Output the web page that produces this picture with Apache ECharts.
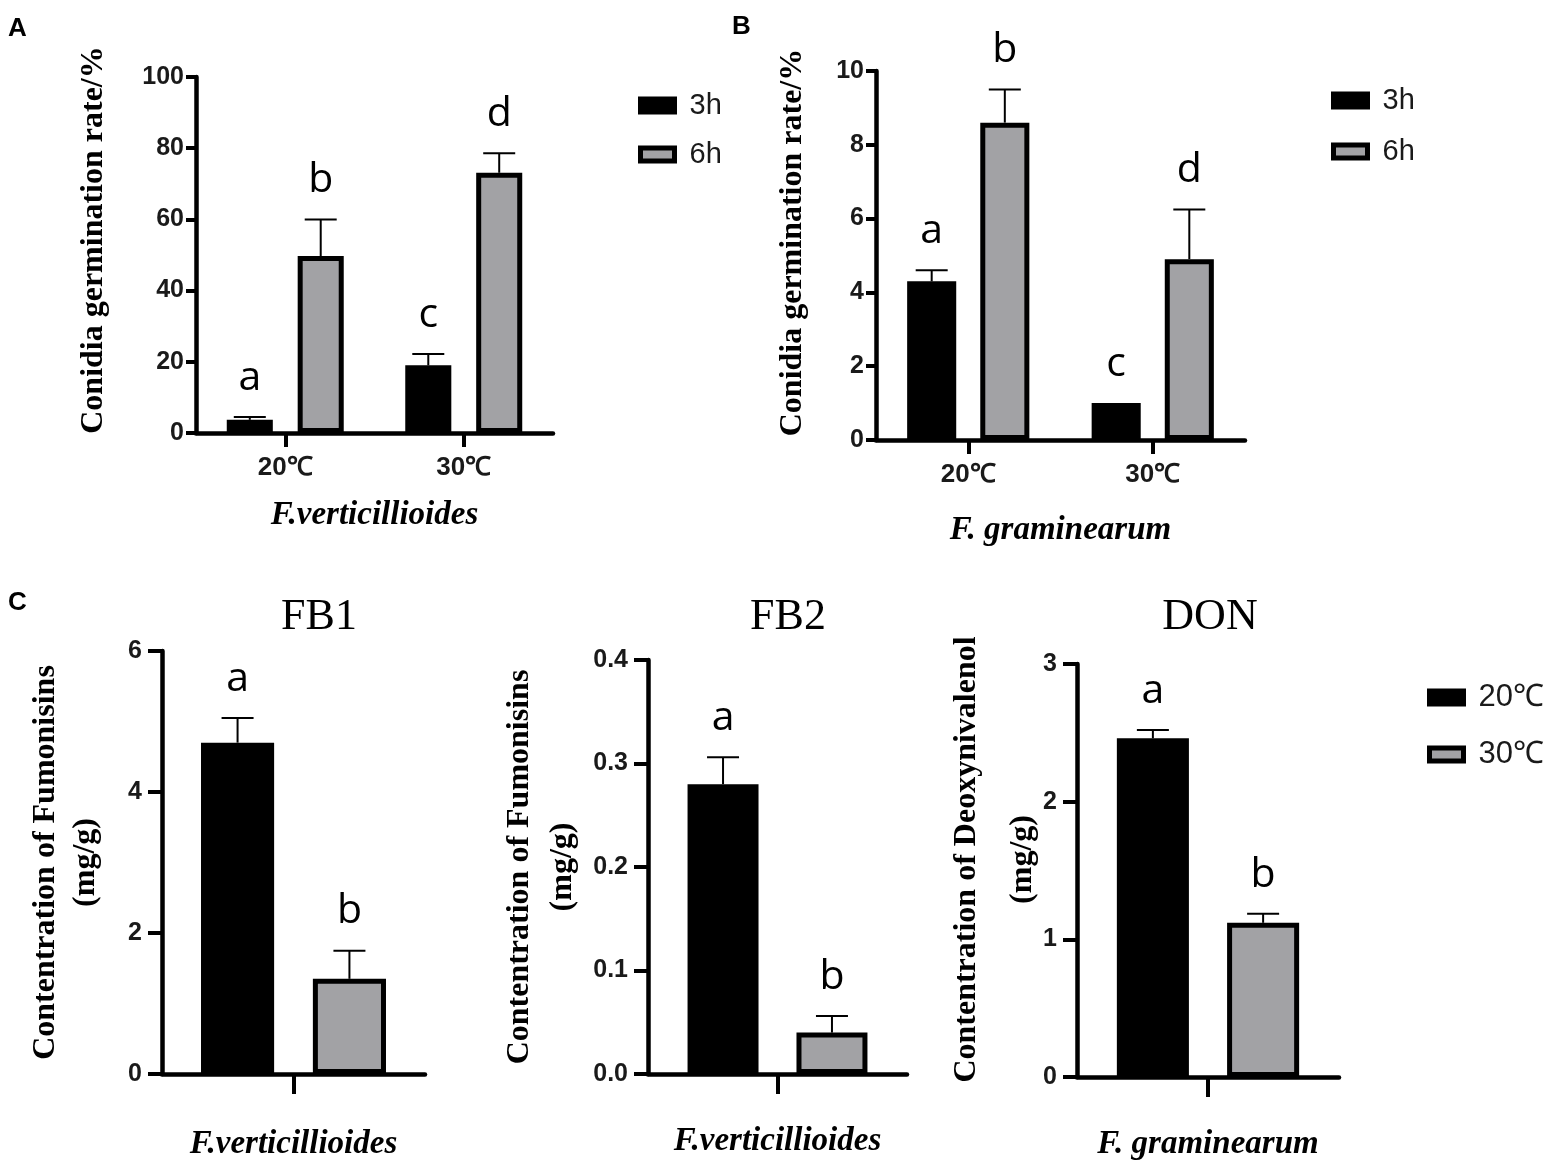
<!DOCTYPE html>
<html>
<head>
<meta charset="utf-8">
<script src="https://cdn.jsdelivr.net/npm/echarts@6/dist/echarts.min.js"></script>
<style>
  html, body { margin: 0; padding: 0; background: #fff; }
  #main { width: 1562px; height: 1162px; }
</style>
</head>
<body>
<div id="main"></div>
<script>
// categories
var tempCats = ['20℃', '30℃'];
var timeNames = ['3h', '6h'];
var tempNames = ['20℃', '30℃'];

// A: F.verticillioides germination (%)
var aMean3h = [3.7, 19.0];
var aErr3h = [0.8, 3.2];
var aMean6h = [49.7, 73.1];
var aErr6h = [10.3, 5.5];
var aLet3h = ['a', 'c'];
var aLet6h = ['b', 'd'];

// B: F. graminearum germination (%)
var bMean3h = [4.3, 1.0];
var bErr3h = [0.3, 0];
var bMean6h = [8.6, 4.9];
var bErr6h = [0.9, 1.35];
var bLet3h = ['a', 'c'];
var bLet6h = ['b', 'd'];

// C: toxins (mg/g), [20℃, 30℃]
var fb1Mean = [4.7, 1.35];
var fb1Err = [0.35, 0.4];
var fb2Mean = [0.28, 0.04];
var fb2Err = [0.026, 0.016];
var donMean = [2.46, 1.12];
var donErr = [0.06, 0.065];
var cLetters = ['a', 'b'];

var BLACK = '#000000';
var GREY = '#a2a2a5';
var TXT = '#1a1a1a';

var myChart = echarts.init(document.getElementById('main'));

// panel layout: grid box, bar width (share of band), bar gap (share of bar)
var panels = [
    {left: 196, top: 77, width: 357, height: 356, bw: 0.258, gap: 0.54},
    {left: 876, top: 71, width: 369, height: 369, bw: 0.266, gap: 0.49},
    {left: 162, top: 651, width: 263, height: 424, bw: 0.278, gap: 0.53},
    {left: 648, top: 660, width: 259, height: 414, bw: 0.274, gap: 0.535},
    {left: 1077, top: 664, width: 262, height: 413, bw: 0.275, gap: 0.53}
];

// 误差线 + 显著性字母
function errRender(shift, letters) {
    return function (params, api) {
        var i = api.value(0), m = api.value(1), e = api.value(2);
        var base = api.coord([i, m]);
        var top = api.coord([i, m + e]);
        var band = api.size([1, 0])[0];
        var x = base[0] + shift * band;
        var kids = [];
        if (e > 0) {
            kids.push({type: 'line', shape: {x1: x, y1: base[1], x2: x, y2: top[1]},
                style: {stroke: BLACK, lineWidth: 2}});
            kids.push({type: 'line', shape: {x1: x - 16, y1: top[1], x2: x + 16, y2: top[1]},
                style: {stroke: BLACK, lineWidth: 2}});
        }
        kids.push({type: 'text', x: x, y: top[1] - 39,
            style: {text: letters[params.dataIndex], fontSize: 41, fontFamily: 'Open Sans',
                fill: BLACK, align: 'center', verticalAlign: 'middle'}});
        return {type: 'group', children: kids};
    };
}

var grids = [], xAxes = [], yAxes = [], series = [];

function yAxisOf(idx, max, interval, name, gap, lh, shiftPad, tickLen, margin, fmt) {
    return {
        type: 'value', gridIndex: idx, min: 0, max: max, interval: interval,
        name: name, nameLocation: 'middle', nameGap: gap, nameRotate: 90,
        nameMoveOverlap: false,
        nameTextStyle: {fontFamily: 'Liberation Serif', fontWeight: 'bold', fontSize: 32,
            color: BLACK, lineHeight: lh, align: 'center', padding: [0, 0, 0, shiftPad]},
        axisLine: {show: true, lineStyle: {color: BLACK, width: 4.5}},
        axisTick: {show: true, length: tickLen, lineStyle: {color: BLACK, width: 4}},
        axisLabel: {color: TXT, fontFamily: 'Liberation Sans', fontWeight: 'bold', fontSize: 25,
            margin: margin, formatter: fmt},
        splitLine: {show: false}
    };
}

function xAxisOf(idx, cats, name, gap, tickLen, showLabel) {
    return {
        type: 'category', gridIndex: idx, data: cats,
        name: name, nameLocation: 'middle', nameGap: gap,
        nameTextStyle: {fontFamily: 'Liberation Serif', fontWeight: 'bold', fontStyle: 'italic',
            fontSize: 33, color: BLACK},
        axisLine: {show: true, onZero: false, lineStyle: {color: BLACK, width: 4.5}},
        axisTick: {show: true, alignWithLabel: true, length: tickLen, lineStyle: {color: BLACK, width: 4}},
        axisLabel: {show: showLabel, color: TXT, fontFamily: 'Liberation Sans', fontWeight: 'bold',
            fontSize: 26, margin: 22},
        splitLine: {show: false}
    };
}

function addBars(idx, names, means, errs, letters) {
    var p = panels[idx];
    var shift = p.bw * (1 + p.gap) / 2;
    names.forEach(function (nm, k) {
        var isGrey = k === 1;
        series.push({
            name: nm, type: 'bar', xAxisIndex: idx, yAxisIndex: idx,
            barWidth: (p.bw * 100) + '%', barGap: (p.gap * 100) + '%',
            itemStyle: {color: isGrey ? GREY : BLACK, borderColor: BLACK, borderWidth: 5},
            data: means[k], z: 2
        });
        series.push({
            name: nm + ' err', type: 'custom', xAxisIndex: idx, yAxisIndex: idx,
            renderItem: errRender(k === 0 ? -shift : shift, letters[k]),
            data: means[k].map(function (v, i) { return [i, v, errs[k][i]]; }),
            encode: {x: 0, y: 1}, z: 3, clip: false, silent: true
        });
    });
}

panels.forEach(function (p) {
    grids.push({left: p.left, top: p.top, width: p.width, height: p.height});
});

// A
xAxes.push(xAxisOf(0, tempCats, 'F.verticillioides', 66, 14, true));
yAxes.push(yAxisOf(0, 100, 20, 'Conidia germination rate/%', 84, 36, 30, 10, 12));
addBars(0, timeNames, [aMean3h, aMean6h], [aErr3h, aErr6h], [aLet3h, aLet6h]);

// B
xAxes.push(xAxisOf(1, tempCats, 'F. graminearum', 74, 14, true));
yAxes.push(yAxisOf(1, 10, 2, 'Conidia germination rate/%', 65, 36, 26, 10, 12));
addBars(1, timeNames, [bMean3h, bMean6h], [bErr3h, bErr6h], [bLet3h, bLet6h]);

// C: FB1, FB2, DON  (one category each, 20℃ vs 30℃)
var cSpecies = ['F.verticillioides', 'F.verticillioides', 'F. graminearum'];
var cMeans = [fb1Mean, fb2Mean, donMean];
var cErrs = [fb1Err, fb2Err, donErr];
var cMax = [6, 0.4, 3];
var cInt = [2, 0.1, 1];
var cYNames = ['Contentration of Fumonisins\n(mg/g)', 'Contentration of Fumonisins\n(mg/g)',
    'Contentration of Deoxynivalenol\n(mg/g)'];
var cYGap = [56, 64, 26];
var cYLh = [40, 43, 56];
var cYPad = [0, 0, 22];
var cXGap = [54, 51, 51];
for (var c = 0; c < 3; c++) {
    var gi = c + 2;
    xAxes.push(xAxisOf(gi, [cSpecies[c]], cSpecies[c], cXGap[c], 20, false));
    yAxes.push(yAxisOf(gi, cMax[c], cInt[c], cYNames[c], cYGap[c], cYLh[c], cYPad[c], 14, 20,
        c === 1 ? function (v) { return v.toFixed(1); } : null));
    addBars(gi, tempNames,
        [[cMeans[c][0]], [cMeans[c][1]]],
        [[cErrs[c][0]], [cErrs[c][1]]],
        [[cLetters[0]], [cLetters[1]]]);
}

function legendAt(left, top, names, font, fs, gap) {
    return {
        orient: 'vertical', left: left, top: top, data: names,
        icon: 'rect', itemWidth: 34, itemHeight: 13, itemGap: gap,
        selectedMode: false,
        itemStyle: {borderColor: BLACK, borderWidth: 5},
        textStyle: {fontFamily: font, fontSize: fs, color: TXT, padding: [0, 0, 0, 10]}
    };
}

var option = {
    backgroundColor: '#ffffff',
    animation: false,
    grid: grids,
    xAxis: xAxes,
    yAxis: yAxes,
    legend: [
        legendAt(633, 86, timeNames, "'Liberation Sans Narrow', 'Liberation Sans'", 29, 20),
        legendAt(1326, 81, timeNames, "'Liberation Sans Narrow', 'Liberation Sans'", 29, 22),
        legendAt(1422, 677, tempNames, 'Liberation Sans', 31, 26)
    ],
    graphic: [
        {type: 'text', left: 8, top: 16, style: {text: 'A', fontSize: 26, fontWeight: 'bold', fontFamily: 'Liberation Sans', fill: BLACK}},
        {type: 'text', left: 732, top: 14, style: {text: 'B', fontSize: 26, fontWeight: 'bold', fontFamily: 'Liberation Sans', fill: BLACK}},
        {type: 'text', left: 8, top: 590, style: {text: 'C', fontSize: 26, fontWeight: 'bold', fontFamily: 'Liberation Sans', fill: BLACK}},
        {type: 'text', x: 319, y: 617, style: {text: 'FB1', fontSize: 44, fontFamily: 'Liberation Serif', fill: BLACK, align: 'center', verticalAlign: 'middle'}},
        {type: 'text', x: 788, y: 617, style: {text: 'FB2', fontSize: 44, fontFamily: 'Liberation Serif', fill: BLACK, align: 'center', verticalAlign: 'middle'}},
        {type: 'text', x: 1210, y: 617, style: {text: 'DON', fontSize: 44, fontFamily: 'Liberation Serif', fill: BLACK, align: 'center', verticalAlign: 'middle'}}
    ],
    series: series
};
myChart.setOption(option);
window.addEventListener('resize', function () {
    myChart.resize();
});
</script>
</body>
</html>
